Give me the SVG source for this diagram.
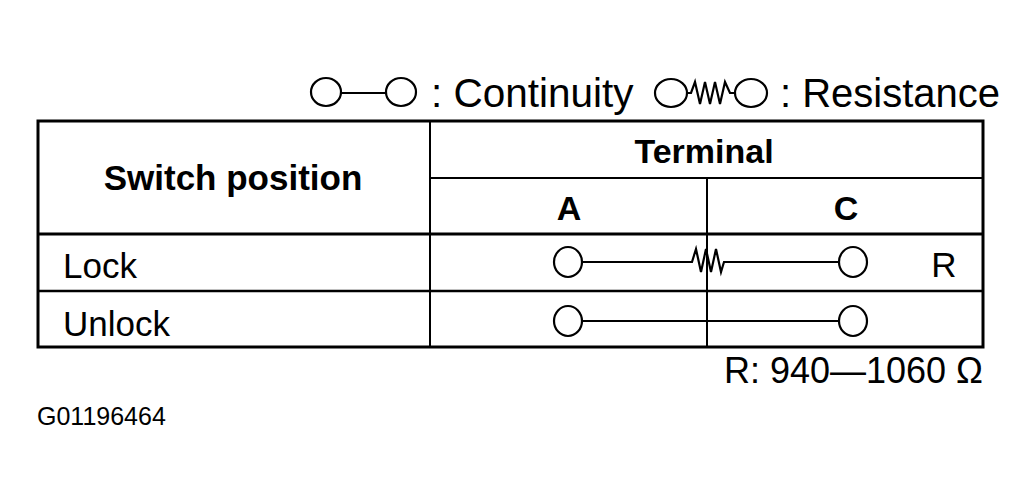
<svg xmlns="http://www.w3.org/2000/svg" width="1035" height="503" viewBox="0 0 1035 503">
<style>
.t{font-family:"Liberation Sans",Arial,sans-serif;fill:#000}
.b{font-weight:bold}
.ln{stroke:#000;fill:none}
.c{stroke:#000;stroke-width:2.2;fill:#fff}
.w{stroke:#000;stroke-width:2.2;fill:none;stroke-linejoin:miter}
</style>
<rect width="1035" height="503" fill="#fff"/>
<g id="legend">
<line class="ln" x1="341" y1="93" x2="386" y2="93" stroke-width="2"/>
<ellipse class="c" cx="326" cy="92" rx="15" ry="14"/>
<ellipse class="c" cx="401" cy="92" rx="15" ry="14"/>
<text class="t" x="431" y="107" font-size="40.5">: Continuity</text>
<path class="w" d="M687,93 L691,93 L695,82 L700,104 L705,82 L710,104 L715,82 L720,104 L725,82 L730,93 L735,93"/>
<ellipse class="c" cx="671" cy="93" rx="16" ry="14"/>
<ellipse class="c" cx="751" cy="93" rx="16" ry="14"/>
<text class="t" x="780" y="107" font-size="40">: Resistance</text>
</g>
<g id="table">
<rect x="38" y="121" width="945" height="226" class="ln" stroke-width="3"/>
<line class="ln" x1="38" y1="234" x2="983" y2="234" stroke-width="3"/>
<line class="ln" x1="38" y1="291" x2="983" y2="291" stroke-width="2.5"/>
<line class="ln" x1="430" y1="121" x2="430" y2="347" stroke-width="2"/>
<line class="ln" x1="430" y1="178" x2="983" y2="178" stroke-width="2"/>
<line class="ln" x1="707" y1="178" x2="707" y2="347" stroke-width="2"/>
<text class="t b" x="233" y="190" font-size="35" text-anchor="middle">Switch position</text>
<text class="t b" x="704" y="163" font-size="34" text-anchor="middle">Terminal</text>
<text class="t b" x="569" y="220" font-size="34" text-anchor="middle">A</text>
<text class="t b" x="846" y="220" font-size="34" text-anchor="middle">C</text>
<text class="t" x="63" y="278" font-size="35">Lock</text>
<text class="t" x="63" y="336" font-size="35">Unlock</text>
<text class="t" x="944" y="277" font-size="35" text-anchor="middle">R</text>
</g>
<g id="connectors">
<path class="w" d="M582,262 L692,262 L696,249 L701,272 L706,249 L711,272 L716,249 L721,272 L724,262 L839,262"/>
<line class="ln" x1="582" y1="321" x2="839" y2="321" stroke-width="2.2"/>
</g>
<g id="terminals">
<ellipse class="c" cx="568" cy="262" rx="14" ry="15"/>
<ellipse class="c" cx="853" cy="262" rx="14" ry="15"/>
<ellipse class="c" cx="568" cy="321" rx="14" ry="15"/>
<ellipse class="c" cx="853" cy="321" rx="14" ry="15"/>
</g>
<g id="notes">
<text class="t" x="983" y="383" font-size="36" text-anchor="end">R: 940—1060 Ω</text>
<text class="t" x="37" y="425" font-size="25">G01196464</text>
</g>
</svg>
